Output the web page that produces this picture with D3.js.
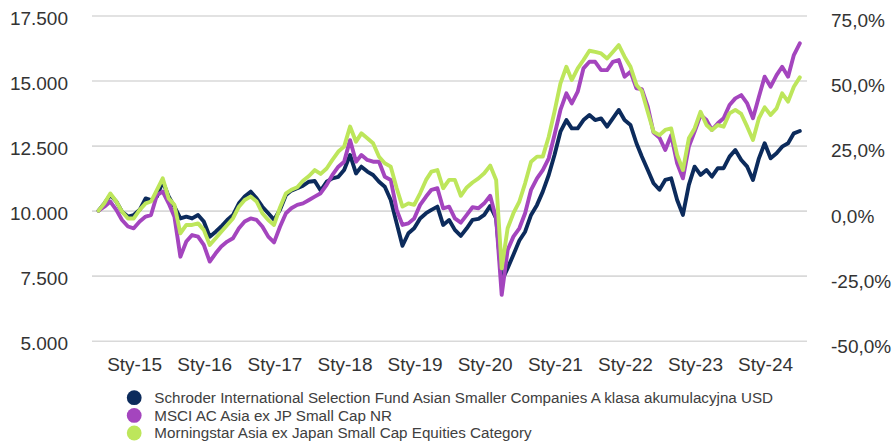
<!DOCTYPE html>
<html>
<head>
<meta charset="utf-8">
<script src="https://cdn.jsdelivr.net/npm/d3@7/dist/d3.min.js"></script>
<style>
  html, body { margin: 0; padding: 0; background: #ffffff; }
  svg { display: block; font-family: "Liberation Sans", Arial, sans-serif; }
</style>
</head>
<body>
<svg id="chart" width="893" height="444"></svg>
<script>
// ---------- DATA (monthly values, index 0 = end of June 2014) ----------
const startMonth = "2014-06-30";
const seriesNames = [
  "Schroder International Selection Fund Asian Smaller Companies A klasa akumulacyjna USD",
  "MSCI AC Asia ex JP Small Cap NR",
  "Morningstar Asia ex Japan Small Cap Equities Category"
];
const seriesColors = ["#0c2b5c", "#a445be", "#bde65b"];

const fundValues = [
  10000,10280,10600,10350,9960,9770,9830,10030,10470,10400,
  10540,11120,10540,10150,9700,9770,9700,9830,9580,9000,
  9190,9390,9640,9830,10280,10540,10730,10470,10150,9900,
  9650,10030,10600,10770,10860,10960,11110,11140,10770,11110,
  11240,11300,11560,12140,11430,11690,11500,11370,11110,10920,
  10410,9510,8650,9130,9320,9700,9900,10030,10154,9450,
  9640,9260,9030,9320,9643,9680,9835,10180,9700,7300,
  7790,8300,8850,9190,9835,10220,10730,11370,12140,13035,
  13480,13160,13160,13480,13675,13480,13545,13227,13545,13870,
  13480,13290,12590,12080,11560,11050,10800,11180,11240,10410,
  9835,10990,11690,11370,11560,11307,11630,11630,12075,12330,
  11947,11690,11180,12010,12590,12010,12203,12459,12590,12970,
  13060
];
const indexValues = [
  10000,10150,10350,10030,9640,9390,9320,9580,9770,9830,
  10600,10730,10280,9770,8230,8810,9060,9000,8680,8040,
  8360,8620,8810,8940,9320,9580,9700,9640,9390,9000,
  8780,9380,9900,10090,10220,10280,10410,10540,10670,10990,
  11370,11690,11880,12710,11880,12140,11950,11880,11880,11300,
  11180,10030,9450,9510,9700,10220,10540,10800,10860,10090,
  10154,9700,9540,9835,10130,10090,10280,10570,9700,6760,
  8490,9000,9320,9900,10800,11240,11560,12010,12910,13870,
  14507,14120,14570,15470,15720,15720,15400,15400,15720,15787,
  15150,15340,14700,14670,14000,13000,12800,12330,12900,11820,
  11240,12460,13035,13675,13480,13100,13355,13550,14060,14315,
  14440,14120,13550,14380,15150,14763,15210,15530,15150,15980,
  16430
];
const categoryValues = [
  10000,10280,10660,10350,9960,9700,9700,10030,10280,10350,
  10800,11240,10470,10220,9130,9450,9450,9510,9260,8680,
  8940,9190,9450,9700,10150,10410,10540,10350,9900,9640,
  9450,10120,10666,10800,10900,11150,11330,11560,11410,11620,
  11950,12270,12460,13230,12650,12970,12780,12590,12070,11820,
  11690,10860,10154,10280,10220,10666,11180,11500,11560,10860,
  11180,11180,10570,10890,11080,11240,11435,11730,11180,7780,
  9320,9900,10350,11050,11880,12075,12075,12840,13800,14890,
  15530,15019,15470,15790,16145,16100,16043,15850,16100,16360,
  15915,15530,14830,14600,13790,13030,12900,13100,13160,12140,
  11560,12780,13160,13800,13290,13100,13290,13227,13740,13870,
  13715,13227,12715,13550,13970,13675,13930,14507,14190,14763,
  15120
];

const leftTicks = [5000, 7500, 10000, 12500, 15000, 17500];
const rightTicks = [-50, -25, 0, 25, 50, 75];
const xTickYears = [2015, 2016, 2017, 2018, 2019, 2020, 2021, 2022, 2023, 2024];
const xTickLabels = ["Sty-15","Sty-16","Sty-17","Sty-18","Sty-19","Sty-20","Sty-21","Sty-22","Sty-23","Sty-24"];

// ---------- LAYOUT ----------
const svg = d3.select("#chart");
svg.append("rect").attr("width", 893).attr("height", 444).attr("fill", "#ffffff");

const plotLeft = 92, plotRight = 807;
const start = d3.timeParse("%Y-%m-%d")(startMonth);
const dates = fundValues.map((_, i) => d3.timeMonth.offset(start, i));

const x = d3.scaleTime()
  .domain([dates[0], dates[dates.length - 1]])
  .range([98.6, 799.8]);
const y = d3.scaleLinear().domain([5000, 17500]).range([340.7, 15.5]);
const yPct = d3.scaleLinear().domain([-50, 75]).range([340.7, 15.5]);

const locale = d3.formatLocale({ decimal: ",", thousands: ".", grouping: [3], currency: ["", ""], minus: "-" });
const fmtLeft = locale.format(",.0f");
const fmtRight = v => locale.format(".1f")(v) + "%";

// left axis + gridlines
const gLeft = svg.append("g").attr("transform", `translate(${plotLeft},0)`)
  .call(d3.axisLeft(y).tickValues(leftTicks).tickFormat(fmtLeft)
    .tickSize(-(plotRight - plotLeft)).tickPadding(24));
gLeft.select(".domain").remove();
gLeft.selectAll(".tick line").attr("stroke", "#d9d9d9").attr("stroke-width", 1.6);
gLeft.selectAll(".tick text").attr("fill", "#333333").attr("font-size", "19px")
  .attr("font-family", "Liberation Sans, Arial, sans-serif").attr("dy", "0.45em");

// right axis
const gRight = svg.append("g").attr("transform", `translate(${plotRight},0)`)
  .call(d3.axisRight(yPct).tickValues(rightTicks).tickFormat(fmtRight)
    .tickSize(0).tickPadding(24));
gRight.select(".domain").remove();
gRight.selectAll(".tick text").attr("fill", "#333333").attr("font-size", "19px")
  .attr("font-family", "Liberation Sans, Arial, sans-serif").attr("dy", "0.6em");

// bottom axis
const xTickDates = xTickYears.map(yr => new Date(yr, 0, 1));
const gBottom = svg.append("g").attr("transform", `translate(0,${y(5000)})`)
  .call(d3.axisBottom(x).tickValues(xTickDates)
    .tickFormat((d, i) => xTickLabels[i]).tickSize(0).tickPadding(17));
gBottom.select(".domain").remove();
gBottom.selectAll(".tick text").attr("fill", "#333333").attr("font-size", "19px")
  .attr("font-family", "Liberation Sans, Arial, sans-serif");

// lines
const line = d3.line().x((d, i) => x(dates[i])).y(d => y(d)).curve(d3.curveLinear);
const allSeries = [fundValues, indexValues, categoryValues];
allSeries.forEach((vals, k) => {
  svg.append("path").datum(vals)
    .attr("d", line)
    .attr("fill", "none")
    .attr("stroke", seriesColors[k])
    .attr("stroke-width", 3.9)
    .attr("stroke-linejoin", "round")
    .attr("stroke-linecap", "round");
});

// legend
const legend = svg.append("g");
const legendY = [397.7, 415.4, 433.0];
seriesNames.forEach((name, k) => {
  legend.append("circle").attr("cx", 134.2).attr("cy", legendY[k]).attr("r", 7.4)
    .attr("fill", seriesColors[k]);
  legend.append("text").attr("x", 154.3).attr("y", legendY[k]).attr("dy", "0.36em")
    .attr("font-size", "15.2px").attr("fill", "#404040")
    .text(name);
});
</script>
</body>
</html>
